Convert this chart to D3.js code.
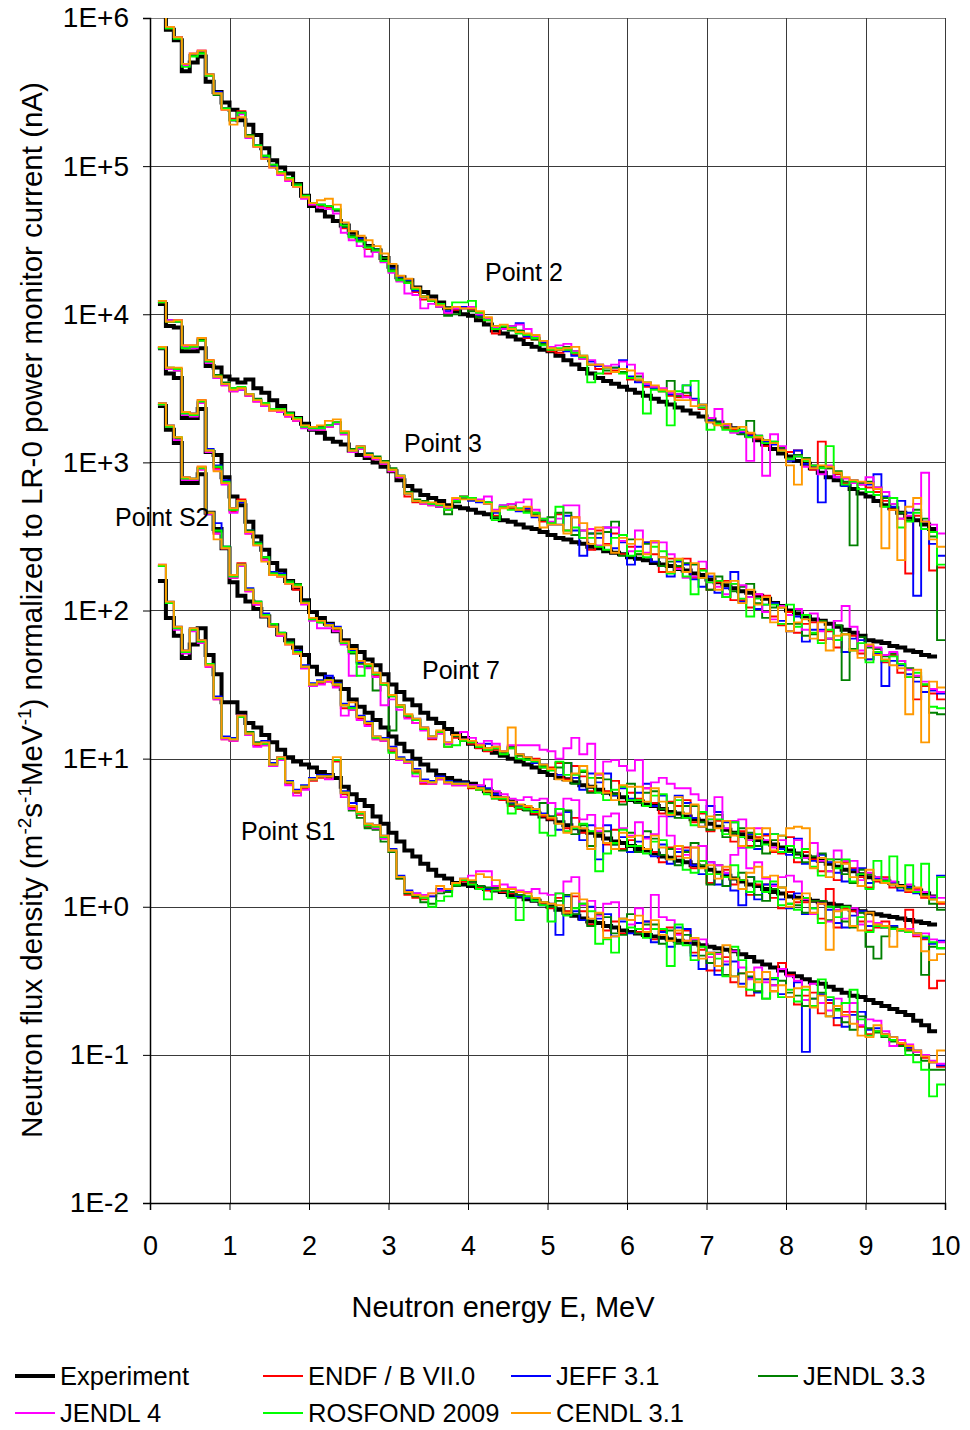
<!DOCTYPE html>
<html>
<head>
<meta charset="utf-8">
<script src="https://cdn.jsdelivr.net/npm/d3@7"></script>
<style>
  body { margin: 0; background: #fff; }
  text { font-family: "Liberation Sans", Arial, sans-serif; }
</style>
</head>
<body>
<svg id="chart" width="970" height="1430"></svg>
<script>
// Flux values are kept as log10 of the flux density, one value per 0.1 MeV bin,
// the first bin starting at 0.1 MeV.

const energyTicks = [0, 1, 2, 3, 4, 5, 6, 7, 8, 9, 10];
const decadeTicks = [1e-2, 1e-1, 1e0, 1e1, 1e2, 1e3, 1e4, 1e5, 1e6];
const decadeLabels = ["1E-2", "1E-1", "1E+0", "1E+1", "1E+2", "1E+3", "1E+4", "1E+5", "1E+6"];

const libraries = ["ENDF / B VII.0", "JEFF 3.1", "JENDL 3.3", "JENDL 4", "ROSFOND 2009", "CENDL 3.1"];
const libColors = ["#ff0000", "#0000ff", "#008000", "#ff00ff", "#00ff00", "#ff9900"];
const pointNames = ["Point 2", "Point 3", "Point 7", "Point S2", "Point S1"];

// ---------- Point 2 ----------
const p2_exp = [6.04,5.92,5.85,5.64,5.70,5.74,5.57,5.50,5.43,5.38,
5.31,5.28,5.21,5.12,5.04,4.99,4.95,4.88,4.80,4.73,
4.70,4.66,4.63,4.60,4.55,4.51,4.46,4.43,4.38,4.32,
4.25,4.23,4.18,4.15,4.12,4.08,4.04,4.02,4.00,3.99,
3.96,3.93,3.89,3.87,3.85,3.83,3.80,3.78,3.76,3.75,
3.72,3.69,3.66,3.63,3.60,3.57,3.55,3.53,3.51,3.49,
3.47,3.45,3.43,3.41,3.39,3.37,3.35,3.33,3.31,3.29,
3.27,3.25,3.23,3.20,3.18,3.15,3.12,3.09,3.06,3.04,
3.01,2.99,2.96,2.93,2.90,2.88,2.85,2.82,2.79,2.77,
2.74,2.71,2.69,2.66,2.63,2.61,2.58,2.55];
const p2_endf = [6.05,5.93,5.87,5.69,5.75,5.78,5.61,5.49,5.39,5.32,
5.37,5.21,5.14,5.06,5.00,4.95,4.91,4.87,4.79,4.74,
4.73,4.72,4.70,4.58,4.52,4.50,4.44,4.43,4.36,4.29,
4.23,4.21,4.15,4.10,4.09,4.06,4.01,4.03,4.04,4.03,
3.98,3.96,3.87,3.90,3.90,3.88,3.84,3.83,3.80,3.75,
3.74,3.76,3.73,3.70,3.66,3.63,3.60,3.62,3.63,3.56,
3.55,3.51,3.50,3.48,3.45,3.44,3.45,3.42,3.36,3.27,
3.26,3.23,3.22,3.20,3.19,3.16,3.11,3.13,3.09,3.07,
3.08,3.02,2.95,3.14,2.96,2.92,2.86,2.86,2.85,2.83,
2.80,2.74,2.68,2.62,2.25,2.64,2.60,2.27,2.29];
const p2_jeff = [6.05,5.94,5.87,5.68,5.75,5.77,5.62,5.50,5.39,5.31,
5.36,5.20,5.14,5.06,5.00,4.95,4.91,4.87,4.79,4.75,
4.74,4.73,4.70,4.59,4.53,4.51,4.46,4.44,4.38,4.31,
4.25,4.23,4.16,4.12,4.10,4.06,4.02,4.04,4.05,4.04,
3.99,3.97,3.91,3.91,3.92,3.94,3.85,3.84,3.81,3.77,
3.76,3.75,3.72,3.71,3.68,3.65,3.64,3.64,3.69,3.58,
3.54,3.52,3.50,3.49,3.46,3.46,3.52,3.43,3.39,3.28,
3.27,3.25,3.21,3.20,3.18,3.18,3.14,3.12,3.10,3.01,
3.08,2.99,2.96,2.73,2.97,2.90,2.84,2.88,2.86,2.85,
2.92,2.77,2.70,2.74,2.66,2.10,2.60,2.45,2.37];
const p2_jendl33 = [6.05,5.93,5.87,5.68,5.75,5.77,5.61,5.48,5.39,5.31,
5.36,5.21,5.14,5.07,5.01,4.96,4.92,4.88,4.80,4.75,
4.74,4.73,4.70,4.59,4.53,4.50,4.46,4.44,4.38,4.30,
4.24,4.22,4.17,4.12,4.09,4.05,3.99,4.00,4.04,4.02,
3.98,3.97,3.92,3.91,3.89,3.89,3.86,3.83,3.80,3.77,
3.76,3.78,3.75,3.72,3.66,3.66,3.62,3.64,3.61,3.57,
3.58,3.54,3.51,3.48,3.55,3.45,3.47,3.42,3.39,3.29,
3.27,3.24,3.21,3.19,3.28,3.17,3.15,3.14,3.10,3.03,
3.05,3.03,2.98,2.97,2.96,2.94,2.87,2.44,2.86,2.87,
2.83,2.76,2.72,2.66,2.61,2.68,2.62,2.50,1.80];
const p2_jendl4 = [6.06,5.94,5.87,5.68,5.76,5.78,5.61,5.49,5.38,5.31,
5.35,5.19,5.13,5.05,4.99,4.94,4.90,4.86,4.78,4.74,
4.72,4.71,4.68,4.55,4.50,4.46,4.39,4.42,4.35,4.28,
4.22,4.14,4.13,4.04,4.07,4.05,4.01,4.04,4.04,4.05,
4.00,3.97,3.91,3.90,3.92,3.93,3.90,3.85,3.82,3.78,
3.79,3.80,3.75,3.70,3.69,3.66,3.65,3.66,3.68,3.66,
3.60,3.53,3.51,3.50,3.47,3.46,3.44,3.42,3.37,3.30,
3.36,3.25,3.20,3.21,3.01,3.18,2.91,3.19,3.11,3.02,
3.04,2.97,2.98,2.92,2.98,2.90,2.89,2.86,2.85,2.90,
2.83,2.80,2.72,2.62,2.64,2.72,2.93,2.58,2.52];
const p2_rosfond = [6.05,5.93,5.86,5.67,5.74,5.76,5.61,5.49,5.39,5.31,
5.36,5.20,5.14,5.07,5.01,4.96,4.92,4.87,4.80,4.75,
4.74,4.73,4.71,4.60,4.52,4.49,4.45,4.43,4.36,4.29,
4.23,4.21,4.17,4.12,4.09,4.07,4.04,4.08,4.08,4.09,
4.01,3.96,3.90,3.92,3.91,3.87,3.86,3.84,3.79,3.76,
3.77,3.76,3.74,3.71,3.54,3.60,3.64,3.61,3.60,3.57,
3.56,3.33,3.49,3.48,3.25,3.48,3.52,3.55,3.37,3.22,
3.26,3.22,3.21,3.22,3.17,3.18,3.13,3.14,3.08,3.02,
3.04,3.01,2.98,2.96,3.11,2.93,2.85,2.87,2.82,2.80,
2.78,2.70,2.76,2.56,2.60,2.66,2.55,2.53,2.31];
const p2_cendl = [6.06,5.94,5.87,5.69,5.76,5.78,5.62,5.49,5.38,5.28,
5.33,5.20,5.13,5.05,4.99,4.95,4.91,4.86,4.79,4.75,
4.77,4.78,4.74,4.62,4.56,4.53,4.50,4.46,4.41,4.34,
4.26,4.24,4.18,4.12,4.10,4.06,4.04,4.05,4.04,4.04,
4.02,3.98,3.92,3.93,3.90,3.88,3.87,3.86,3.82,3.77,
3.76,3.77,3.78,3.72,3.66,3.66,3.64,3.61,3.63,3.62,
3.56,3.54,3.52,3.49,3.48,3.42,3.42,3.38,3.39,3.27,
3.25,3.26,3.23,3.24,3.20,3.17,3.15,3.13,3.08,2.98,
2.85,3.02,2.96,2.98,2.97,2.93,2.90,2.88,2.87,2.86,
2.82,2.42,2.68,2.34,2.70,2.76,2.60,2.48,2.43];

// ---------- Point 3 ----------
const p3_exp = [4.07,3.92,3.91,3.75,3.75,3.77,3.65,3.64,3.58,3.56,
3.54,3.56,3.50,3.47,3.42,3.38,3.33,3.30,3.26,3.22,
3.20,3.16,3.14,3.12,3.08,3.05,3.03,3.00,2.97,2.94,
2.88,2.84,2.81,2.78,2.76,2.74,2.71,2.70,2.69,2.68,
2.66,2.65,2.63,2.61,2.60,2.58,2.56,2.55,2.53,2.51,
2.49,2.48,2.46,2.45,2.43,2.42,2.40,2.39,2.38,2.36,
2.35,2.34,2.32,2.31,2.30,2.28,2.27,2.25,2.24,2.21,
2.19,2.17,2.15,2.13,2.12,2.10,2.08,2.05,2.03,2.00,
1.98,1.96,1.94,1.93,1.91,1.89,1.87,1.85,1.83,1.80,
1.79,1.78,1.76,1.75,1.73,1.72,1.70,1.69];
const p3_endf = [4.08,3.95,3.96,3.79,3.79,3.84,3.69,3.58,3.52,3.48,
3.50,3.45,3.41,3.38,3.35,3.34,3.31,3.28,3.24,3.23,
3.22,3.24,3.27,3.19,3.07,3.09,3.04,3.02,2.99,2.94,
2.90,2.77,2.73,2.72,2.71,2.70,2.68,2.74,2.77,2.75,
2.74,2.73,2.64,2.70,2.69,2.68,2.68,2.66,2.60,2.59,
2.65,2.54,2.63,2.49,2.41,2.54,2.45,2.52,2.38,2.43,
2.38,2.46,2.38,2.26,2.35,2.29,2.35,2.22,2.28,2.14,
2.19,2.20,2.07,2.07,2.02,2.11,2.10,1.96,1.90,1.99,
1.85,1.91,1.92,1.80,1.86,1.75,1.84,1.83,1.71,1.67,
1.70,1.65,1.70,1.58,1.55,1.40,1.49,1.44,1.40];
const p3_jeff = [4.09,3.96,3.95,3.78,3.78,3.83,3.68,3.57,3.53,3.49,
3.49,3.46,3.42,3.39,3.36,3.35,3.32,3.29,3.24,3.23,
3.23,3.25,3.26,3.20,3.08,3.11,3.06,3.03,3.00,2.95,
2.91,2.79,2.74,2.73,2.72,2.71,2.69,2.74,2.76,2.74,
2.73,2.72,2.66,2.71,2.70,2.67,2.69,2.63,2.61,2.58,
2.58,2.64,2.54,2.37,2.52,2.49,2.56,2.42,2.46,2.31,
2.43,2.46,2.33,2.36,2.23,2.33,2.31,2.21,2.16,2.23,
2.12,2.15,2.26,2.06,2.09,2.01,2.04,2.05,1.93,1.86,
1.96,1.79,1.87,1.87,1.81,1.80,1.72,1.81,1.80,1.67,
1.71,1.49,1.66,1.63,1.57,1.52,1.45,1.46,1.44];
const p3_jendl33 = [4.08,3.95,3.95,3.78,3.78,3.83,3.68,3.59,3.54,3.50,
3.50,3.46,3.43,3.40,3.36,3.35,3.33,3.29,3.25,3.24,
3.24,3.25,3.27,3.20,3.09,3.10,3.06,3.04,3.01,2.96,
2.91,2.80,2.75,2.74,2.72,2.70,2.65,2.73,2.76,2.75,
2.74,2.73,2.63,2.70,2.72,2.68,2.67,2.65,2.61,2.63,
2.66,2.66,2.51,2.54,2.52,2.52,2.53,2.60,2.37,2.48,
2.38,2.45,2.46,2.30,2.33,2.30,2.32,2.31,2.22,2.14,
2.23,2.09,2.13,2.16,2.18,2.05,1.95,2.02,2.02,1.91,
1.91,1.83,1.84,1.93,1.81,1.90,1.53,1.74,1.82,1.75,
1.74,1.69,1.71,1.66,1.61,1.55,1.50,1.31,1.30];
const p3_jendl4 = [4.09,3.96,3.96,3.78,3.77,3.82,3.67,3.57,3.52,3.48,
3.49,3.45,3.41,3.38,3.35,3.34,3.31,3.28,3.23,3.22,
3.22,3.24,3.26,3.19,3.07,3.09,3.04,3.02,2.99,2.94,
2.90,2.79,2.74,2.72,2.71,2.70,2.69,2.75,2.77,2.76,
2.75,2.77,2.68,2.71,2.72,2.73,2.75,2.68,2.62,2.60,
2.62,2.71,2.71,2.54,2.55,2.44,2.56,2.56,2.47,2.40,
2.54,2.39,2.46,2.46,2.38,2.28,2.22,2.23,2.33,2.19,
2.16,2.11,2.18,2.17,2.09,2.11,1.99,1.94,2.03,1.97,
2.01,1.87,1.98,1.86,1.81,1.93,2.03,1.89,1.73,1.76,
1.75,1.70,1.72,1.66,1.60,1.56,1.52,1.47,1.45];
const p3_rosfond = [4.08,3.95,3.95,3.77,3.78,3.82,3.68,3.58,3.53,3.50,
3.51,3.46,3.42,3.40,3.36,3.36,3.33,3.30,3.24,3.23,
3.23,3.25,3.27,3.20,3.08,3.10,3.05,3.03,3.00,2.95,
2.91,2.79,2.74,2.73,2.72,2.71,2.68,2.74,2.77,2.76,
2.74,2.73,2.61,2.70,2.68,2.69,2.66,2.66,2.62,2.59,
2.70,2.54,2.56,2.49,2.49,2.43,2.41,2.49,2.51,2.37,
2.40,2.36,2.43,2.40,2.25,2.34,2.23,2.11,2.27,2.19,
2.20,2.09,2.18,2.08,1.96,2.08,2.04,2.04,1.91,2.04,
1.89,1.97,1.85,1.78,1.87,1.80,1.84,1.73,1.78,1.65,
1.72,1.66,1.69,1.64,1.55,1.58,1.50,1.35,1.34];
const p3_cendl = [4.09,3.95,3.96,3.79,3.79,3.84,3.69,3.58,3.53,3.49,
3.50,3.46,3.42,3.39,3.35,3.35,3.32,3.29,3.25,3.24,
3.25,3.28,3.29,3.21,3.08,3.11,3.05,3.03,3.00,2.95,
2.91,2.79,2.74,2.73,2.73,2.72,2.70,2.76,2.75,2.75,
2.74,2.72,2.67,2.69,2.70,2.68,2.70,2.64,2.56,2.58,
2.58,2.52,2.63,2.59,2.45,2.56,2.44,2.39,2.49,2.45,
2.48,2.38,2.47,2.36,2.26,2.35,2.26,2.32,2.22,2.25,
2.14,2.19,2.20,2.05,2.14,2.04,2.09,1.92,2.02,1.86,
1.92,1.94,1.81,1.92,1.73,1.83,1.84,1.73,1.68,1.77,
1.70,1.67,1.63,1.61,1.30,1.60,1.11,1.52,1.48];

// ---------- Point 7 ----------
const p7_exp = [3.77,3.60,3.57,3.30,3.30,3.36,3.07,3.05,2.90,2.77,
2.71,2.60,2.50,2.41,2.32,2.27,2.20,2.15,2.07,1.99,
1.95,1.91,1.86,1.80,1.76,1.72,1.67,1.63,1.57,1.50,
1.45,1.40,1.36,1.31,1.27,1.24,1.20,1.17,1.14,1.10,
1.08,1.06,1.04,1.02,1.00,0.98,0.96,0.94,0.91,0.89,
0.87,0.86,0.84,0.82,0.81,0.79,0.77,0.76,0.74,0.72,
0.71,0.69,0.68,0.66,0.64,0.63,0.61,0.59,0.58,0.56,
0.54,0.52,0.50,0.49,0.47,0.45,0.43,0.42,0.40,0.38,
0.36,0.34,0.33,0.31,0.29,0.27,0.25,0.24,0.22,0.20,
0.19,0.17,0.16,0.14,0.13,0.11,0.09,0.07];
const p7_endf = [3.77,3.64,3.63,3.33,3.32,3.42,3.07,2.96,2.87,2.67,
2.75,2.52,2.45,2.35,2.24,2.23,2.19,2.14,2.05,1.95,
1.92,1.90,1.87,1.79,1.72,1.65,1.63,1.56,1.50,1.42,
1.35,1.28,1.24,1.20,1.13,1.17,1.08,1.14,1.12,1.10,
1.07,1.05,1.06,1.04,1.07,1.02,0.99,1.00,0.94,0.94,
0.97,0.86,0.95,0.88,0.78,0.87,0.78,0.85,0.71,0.77,
0.73,0.80,0.70,0.63,0.71,0.68,0.72,0.57,0.63,0.51,
0.58,0.58,0.44,0.51,0.41,0.47,0.48,0.37,0.36,0.47,
0.30,0.37,0.32,0.24,0.32,0.18,0.30,0.26,0.20,0.13,
0.17,0.20,0.13,0.14,0.10,0.12,0.06,0.05,0.02];
const p7_jeff = [3.77,3.63,3.63,3.34,3.33,3.41,3.09,2.98,2.88,2.69,
2.73,2.54,2.46,2.36,2.26,2.25,2.20,2.18,2.06,1.95,
1.93,1.91,1.89,1.78,1.73,1.65,1.64,1.58,1.51,1.43,
1.36,1.29,1.27,1.21,1.15,1.18,1.11,1.16,1.13,1.12,
1.09,1.10,1.08,1.05,1.08,1.03,1.01,0.97,0.96,0.93,
0.89,0.97,0.87,0.79,0.90,0.84,0.90,0.75,0.80,0.73,
0.77,0.83,0.68,0.75,0.61,0.75,0.70,0.60,0.54,0.68,
0.64,0.57,0.57,0.40,0.49,0.39,0.49,0.49,0.39,0.35,
0.46,0.29,0.31,0.35,0.30,0.23,0.17,0.25,0.26,0.16,
0.19,0.17,0.16,0.11,0.13,0.09,0.08,0.06,0.21];
const p7_jendl33 = [3.77,3.63,3.62,3.33,3.32,3.40,3.08,2.97,2.86,2.68,
2.74,2.54,2.46,2.36,2.25,2.24,2.20,2.18,2.06,1.94,
1.92,1.90,1.88,1.78,1.71,1.64,1.62,1.46,1.50,1.19,
1.36,1.29,1.26,1.20,1.14,1.18,1.10,1.15,1.12,1.11,
1.08,1.07,1.07,1.04,1.08,1.02,1.00,0.99,0.95,0.93,
0.94,0.97,0.83,0.91,0.77,0.87,0.86,0.76,0.69,0.83,
0.70,0.77,0.78,0.66,0.70,0.60,0.68,0.68,0.57,0.52,
0.62,0.47,0.50,0.53,0.50,0.41,0.36,0.45,0.48,0.37,
0.36,0.30,0.34,0.36,0.24,0.32,0.22,0.16,0.25,0.22,
0.18,0.18,0.15,0.13,0.12,0.10,0.08,0.02,-0.02];
const p7_jendl4 = [3.78,3.63,3.62,3.32,3.31,3.40,3.07,2.95,2.85,2.66,
2.74,2.52,2.44,2.34,2.24,2.23,2.18,2.16,2.04,1.93,
1.88,1.88,1.86,1.77,1.56,1.62,1.61,1.55,1.36,1.40,
1.33,1.27,1.24,1.19,1.14,1.17,1.10,1.16,1.18,1.14,
1.10,1.12,1.10,1.05,1.09,1.09,1.09,1.09,1.06,1.05,
1.00,1.07,1.14,1.03,1.10,0.89,0.98,0.99,0.95,0.92,
0.99,0.80,0.84,0.87,0.83,0.80,0.80,0.76,0.72,0.59,
0.74,0.53,0.58,0.59,0.45,0.53,0.45,0.40,0.45,0.41,
0.45,0.33,0.43,0.31,0.24,0.38,0.31,0.31,0.18,0.23,
0.20,0.19,0.17,0.14,0.15,0.11,0.10,0.07,0.06];
const p7_rosfond = [3.77,3.64,3.63,3.33,3.32,3.41,3.08,2.97,2.87,2.68,
2.74,2.53,2.45,2.36,2.25,2.24,2.19,2.17,2.05,1.94,
1.92,1.90,1.88,1.78,1.72,1.56,1.63,1.57,1.50,1.42,
1.35,1.29,1.26,1.20,1.15,1.18,1.08,1.09,1.12,1.11,
1.08,1.06,1.07,1.03,1.07,1.00,0.99,0.98,0.94,0.92,
0.98,0.89,0.89,0.92,0.87,0.77,0.72,0.79,0.81,0.72,
0.72,0.68,0.75,0.76,0.63,0.72,0.60,0.55,0.64,0.59,
0.59,0.49,0.57,0.47,0.40,0.49,0.42,0.49,0.37,0.41,
0.33,0.39,0.27,0.21,0.32,0.26,0.32,0.17,0.22,0.12,
0.31,0.17,0.34,0.14,0.28,0.10,0.29,0.05,0.20];
const p7_cendl = [3.78,3.64,3.64,3.34,3.33,3.42,3.08,2.94,2.86,2.69,
2.74,2.53,2.44,2.33,2.24,2.23,2.18,2.16,2.05,1.95,
1.93,1.90,1.88,1.79,1.74,1.66,1.64,1.58,1.51,1.43,
1.36,1.30,1.27,1.21,1.15,1.19,1.11,1.16,1.13,1.12,
1.09,1.07,1.08,1.05,1.21,1.03,1.01,0.99,0.96,0.93,
0.86,0.85,0.90,0.95,0.81,0.90,0.77,0.72,0.82,0.81,
0.81,0.71,0.80,0.71,0.62,0.74,0.63,0.69,0.54,0.61,
0.53,0.58,0.48,0.41,0.53,0.46,0.53,0.38,0.48,0.53,
0.54,0.53,0.26,0.33,0.20,0.30,0.29,0.20,0.14,0.25,
0.18,0.16,0.15,0.14,0.11,0.13,0.07,0.05,0.03];

// ---------- Point S2 ----------
const ps2_exp = [3.38,3.22,3.13,2.86,2.86,2.92,2.66,2.55,2.42,2.19,
2.10,2.06,2.01,1.96,1.90,1.84,1.80,1.75,1.70,1.62,
1.57,1.54,1.52,1.47,1.40,1.35,1.31,1.26,1.21,1.15,
1.10,1.05,1.00,0.96,0.92,0.89,0.87,0.85,0.84,0.83,
0.81,0.78,0.76,0.73,0.71,0.68,0.66,0.63,0.61,0.59,
0.57,0.55,0.53,0.51,0.50,0.48,0.46,0.44,0.43,0.41,
0.39,0.38,0.36,0.34,0.33,0.31,0.30,0.28,0.27,0.25,
0.23,0.21,0.19,0.17,0.15,0.14,0.12,0.10,0.09,0.07,
0.06,0.05,0.04,0.03,0.02,0.01,0.00,-0.02,-0.03,-0.04,
-0.05,-0.06,-0.07,-0.08,-0.09,-0.10,-0.11,-0.12];
const ps2_endf = [3.39,3.24,3.16,2.89,2.89,2.97,2.66,2.52,2.42,2.22,
2.32,2.13,2.04,1.97,1.90,1.83,1.78,1.71,1.61,1.50,
1.51,1.52,1.49,1.34,1.33,1.27,1.23,1.13,1.12,1.05,
0.99,0.97,0.91,0.83,0.83,0.86,0.84,0.82,0.82,0.80,
0.79,0.78,0.73,0.72,0.68,0.66,0.67,0.63,0.61,0.59,
0.62,0.53,0.60,0.50,0.41,0.50,0.42,0.52,0.39,0.45,
0.41,0.47,0.37,0.30,0.40,0.34,0.40,0.26,0.31,0.16,
0.22,0.25,0.15,0.18,0.08,0.15,0.15,0.06,-0.01,0.10,
0.03,0.03,0.04,-0.08,0.12,-0.14,-0.01,-0.03,-0.10,-0.16,
-0.14,-0.10,-0.15,-0.16,-0.02,-0.20,-0.22,-0.55,-0.50];
const ps2_jeff = [3.40,3.25,3.16,2.90,2.89,2.96,2.66,2.59,2.43,2.24,
2.31,2.15,2.06,1.98,1.91,1.85,1.79,1.73,1.63,1.51,
1.53,1.56,1.51,1.37,1.35,1.29,1.25,1.15,1.14,1.08,
1.01,0.99,0.93,0.86,0.85,0.88,0.85,0.84,0.84,0.82,
0.81,0.80,0.76,0.74,0.70,0.68,0.66,0.65,0.63,0.61,
0.52,0.64,0.53,0.45,0.55,0.32,0.55,0.42,0.47,0.37,
0.44,0.47,0.34,0.42,0.29,0.37,0.38,0.28,0.22,0.30,
0.15,0.22,0.11,0.01,0.20,0.05,0.15,0.15,0.05,-0.01,
0.09,-0.05,-0.01,0.02,-0.02,-0.11,-0.14,-0.06,-0.03,-0.13,
-0.12,-0.14,-0.13,-0.15,-0.17,-0.18,-0.21,-0.25,-0.23];
const ps2_jendl33 = [3.39,3.24,3.16,2.89,2.88,2.96,2.65,2.53,2.43,2.23,
2.30,2.14,2.06,1.97,1.90,1.84,1.79,1.72,1.62,1.50,
1.52,1.53,1.50,1.36,1.34,1.28,1.24,1.14,1.13,1.06,
1.00,0.98,0.92,0.85,0.84,0.87,0.84,0.83,0.83,0.81,
0.80,0.79,0.74,0.73,0.69,0.67,0.65,0.64,0.70,0.61,
0.66,0.65,0.49,0.55,0.41,0.50,0.51,0.42,0.38,0.50,
0.37,0.51,0.46,0.35,0.39,0.28,0.37,0.43,0.28,0.15,
0.28,0.14,0.19,0.23,0.20,0.08,0.04,0.12,0.13,0.02,
0.01,-0.04,0.04,0.04,-0.09,0.00,-0.10,-0.14,-0.04,-0.27,
-0.35,-0.20,-0.14,-0.15,-0.16,-0.18,-0.46,-0.27,-0.28];
const ps2_jendl4 = [3.39,3.24,3.15,2.88,2.88,2.95,2.65,2.52,2.42,2.22,
2.30,2.13,2.04,1.96,1.89,1.83,1.77,1.71,1.61,1.49,
1.50,1.52,1.48,1.29,1.33,1.26,1.22,1.13,1.12,1.06,
0.99,0.97,0.88,0.84,0.83,0.86,0.83,0.82,0.82,0.82,
0.82,0.86,0.78,0.76,0.73,0.72,0.74,0.72,0.73,0.70,
0.63,0.73,0.72,0.59,0.62,0.51,0.61,0.63,0.53,0.48,
0.57,0.46,0.49,0.61,0.48,0.39,0.35,0.40,0.41,0.30,
0.28,0.23,0.35,0.40,0.26,0.30,0.19,0.14,0.20,0.21,
0.17,0.05,-0.05,0.02,-0.10,-0.02,-0.08,-0.01,-0.12,-0.10,
-0.11,-0.14,-0.15,-0.16,-0.15,-0.19,-0.18,-0.22,-0.24];
const ps2_rosfond = [3.39,3.24,3.17,2.89,2.89,2.96,2.66,2.54,2.43,2.23,
2.31,2.14,2.06,1.97,1.91,1.85,1.78,1.72,1.62,1.50,
1.52,1.53,1.50,1.36,1.34,1.28,1.24,1.14,1.13,1.04,
1.00,0.98,0.90,0.85,0.84,0.87,0.84,0.83,0.83,0.81,
0.79,0.76,0.73,0.73,0.63,0.67,0.66,0.64,0.50,0.48,
0.66,0.51,0.53,0.56,0.51,0.24,0.36,0.43,0.52,0.41,
0.41,0.36,0.44,0.45,0.32,0.41,0.25,0.23,0.31,0.22,
0.22,0.20,0.28,0.18,0.10,0.17,0.10,0.17,0.01,0.02,
-0.02,0.06,-0.01,-0.11,0.00,-0.07,0.00,-0.13,-0.07,-0.17,
-0.13,-0.14,-0.15,-0.16,-0.17,-0.18,-0.20,-0.24,-0.28];
const ps2_cendl = [3.40,3.25,3.17,2.90,2.89,2.97,2.66,2.48,2.42,2.24,
2.31,2.14,2.05,1.96,1.89,1.84,1.77,1.71,1.62,1.50,
1.52,1.53,1.50,1.36,1.38,1.28,1.24,1.15,1.13,1.07,
1.00,0.98,0.92,0.85,0.84,0.87,0.84,0.83,0.83,0.81,
0.80,0.78,0.74,0.74,0.71,0.69,0.68,0.66,0.62,0.60,
0.56,0.50,0.54,0.53,0.39,0.53,0.43,0.39,0.50,0.47,
0.48,0.39,0.48,0.40,0.32,0.41,0.33,0.40,0.26,0.28,
0.19,0.27,0.19,0.12,0.23,0.27,0.20,0.21,0.13,0.00,
0.05,0.09,-0.04,0.02,-0.29,-0.03,-0.02,-0.13,-0.16,-0.04,
-0.12,-0.13,-0.27,-0.15,-0.16,-0.18,-0.30,-0.36,-0.32];

// ---------- Point S1 ----------
const ps1_exp = [2.20,1.95,1.83,1.68,1.77,1.88,1.70,1.57,1.38,1.38,
1.31,1.24,1.21,1.16,1.11,1.06,1.01,0.98,0.96,0.94,
0.91,0.89,0.87,0.81,0.76,0.72,0.68,0.61,0.56,0.50,
0.44,0.38,0.34,0.29,0.25,0.21,0.19,0.16,0.15,0.14,
0.13,0.12,0.11,0.10,0.08,0.07,0.05,0.04,0.02,0.00,
-0.02,-0.04,-0.06,-0.08,-0.10,-0.11,-0.13,-0.14,-0.16,-0.17,
-0.18,-0.19,-0.20,-0.21,-0.22,-0.23,-0.24,-0.25,-0.26,-0.27,
-0.28,-0.29,-0.30,-0.32,-0.34,-0.37,-0.39,-0.41,-0.43,-0.45,
-0.47,-0.49,-0.51,-0.52,-0.54,-0.56,-0.58,-0.60,-0.61,-0.63,
-0.65,-0.67,-0.69,-0.71,-0.73,-0.77,-0.80,-0.84];
const ps1_endf = [2.30,2.05,1.88,1.72,1.87,1.79,1.62,1.40,1.13,1.12,
1.29,1.16,1.09,1.09,0.95,1.00,0.83,0.77,0.80,0.85,
0.87,0.87,0.98,0.76,0.67,0.62,0.54,0.53,0.46,0.37,
0.19,0.08,0.06,0.05,0.07,0.11,0.10,0.15,0.17,0.16,
0.13,0.11,0.12,0.10,0.09,0.07,0.06,0.05,0.02,-0.01,
0.06,-0.03,0.07,-0.03,-0.12,-0.05,-0.16,-0.10,-0.18,-0.09,
-0.17,-0.10,-0.22,-0.16,-0.14,-0.18,-0.16,-0.31,-0.29,-0.43,
-0.43,-0.34,-0.51,-0.45,-0.60,-0.49,-0.49,-0.57,-0.38,-0.46,
-0.66,-0.60,-0.58,-0.72,-0.65,-0.80,-0.71,-0.71,-0.81,-0.86,
-0.84,-0.86,-0.90,-0.93,-0.96,-0.98,-1.02,-1.05,-1.08];
const ps1_jeff = [2.30,2.06,1.89,1.73,1.88,1.80,1.64,1.42,1.15,1.14,
1.29,1.18,1.11,1.12,0.97,1.01,0.85,0.79,0.82,0.87,
0.89,0.89,0.99,0.78,0.70,0.64,0.56,0.55,0.48,0.39,
0.21,0.11,0.09,0.07,0.07,0.12,0.11,0.16,0.19,0.17,
0.14,0.12,0.13,0.11,0.10,0.07,0.06,0.04,0.01,0.02,
-0.19,0.07,-0.03,-0.09,0.00,-0.08,-0.05,-0.20,-0.10,-0.18,
-0.11,-0.10,-0.24,-0.17,-0.27,-0.14,-0.15,-0.33,-0.42,-0.31,
-0.46,-0.39,-0.37,-0.52,-0.48,-0.58,-0.49,-0.49,-0.59,-0.61,
-0.51,-0.98,-0.62,-0.59,-0.63,-0.75,-0.81,-0.73,-0.71,-0.83,
-0.82,-0.86,-0.88,-0.92,-0.95,-0.97,-1.00,-1.05,-1.07];
const ps1_jendl33 = [2.30,2.05,1.88,1.72,1.87,1.79,1.63,1.41,1.14,1.13,
1.28,1.18,1.11,1.10,0.96,1.00,0.84,0.78,0.81,0.86,
0.88,0.88,0.99,0.77,0.65,0.60,0.53,0.52,0.44,0.37,
0.19,0.09,0.07,0.03,0.02,0.09,0.10,0.14,0.18,0.17,
0.14,0.13,0.13,0.11,0.10,0.08,0.07,0.05,0.03,0.00,
0.04,0.08,-0.05,0.02,-0.13,-0.05,-0.07,-0.18,-0.19,-0.05,
-0.18,-0.12,-0.12,-0.25,-0.16,-0.25,-0.19,-0.23,-0.33,-0.38,
-0.31,-0.46,-0.47,-0.45,-0.47,-0.57,-0.62,-0.53,-0.50,-0.58,
-0.60,-0.67,-0.62,-0.58,-0.74,-0.69,-0.78,-0.83,-0.74,-0.82,
-0.85,-0.88,-0.91,-0.94,-0.97,-1.00,-1.04,-1.10,-1.10];
const ps1_jendl4 = [2.31,2.05,1.87,1.71,1.86,1.78,1.62,1.40,1.13,1.12,
1.29,1.16,1.08,1.09,0.95,0.99,0.82,0.75,0.79,0.86,
0.88,0.86,0.99,0.74,0.66,0.63,0.55,0.53,0.46,0.38,
0.20,0.10,0.09,0.08,0.09,0.11,0.12,0.16,0.18,0.21,
0.24,0.24,0.14,0.15,0.13,0.11,0.10,0.12,0.09,0.08,
0.09,0.17,0.20,0.01,0.04,-0.06,0.02,0.03,-0.08,-0.12,
-0.01,-0.15,0.08,-0.07,-0.09,-0.19,-0.23,-0.22,-0.22,-0.34,
-0.32,-0.37,-0.30,-0.41,-0.49,-0.41,-0.51,-0.53,-0.42,-0.47,
-0.50,-0.63,-0.52,-0.65,-0.70,-0.62,-0.74,-0.65,-0.80,-0.76,
-0.77,-0.84,-0.94,-0.90,-0.93,-0.98,-1.00,-1.04,-1.06];
const ps1_rosfond = [2.30,2.05,1.88,1.72,1.87,1.79,1.64,1.41,1.14,1.13,
1.28,1.17,1.10,1.10,0.96,1.00,0.84,0.78,0.81,0.86,
0.88,0.88,0.99,0.77,0.68,0.63,0.55,0.54,0.47,0.38,
0.20,0.10,0.08,0.06,0.00,0.04,0.07,0.15,0.18,0.15,
0.12,0.05,0.11,0.12,0.06,-0.09,0.07,0.04,0.01,-0.10,
0.09,-0.06,-0.01,0.02,-0.03,-0.25,-0.22,-0.31,-0.08,-0.14,
-0.15,-0.21,-0.15,-0.15,-0.40,-0.12,-0.26,-0.36,-0.27,-0.32,
-0.35,-0.47,-0.27,-0.36,-0.56,-0.49,-0.62,-0.48,-0.61,-0.56,
-0.64,-0.56,-0.67,-0.49,-0.61,-0.70,-0.65,-0.56,-0.76,-0.87,
-0.84,-0.87,-0.90,-0.92,-1.00,-1.05,-1.10,-1.28,-1.20];
const ps1_cendl = [2.31,2.06,1.89,1.73,1.88,1.80,1.63,1.41,1.14,1.13,
1.29,1.17,1.10,1.11,0.96,1.01,0.84,0.78,0.81,0.86,
0.88,0.88,1.01,0.77,0.68,0.64,0.56,0.55,0.48,0.38,
0.20,0.10,0.08,0.07,0.09,0.14,0.12,0.16,0.19,0.18,
0.22,0.20,0.18,0.12,0.12,0.10,0.09,0.06,0.03,0.02,
0.01,-0.04,0.09,0.05,-0.08,-0.04,-0.21,-0.20,-0.08,-0.09,
-0.06,-0.17,-0.09,-0.19,-0.23,-0.16,-0.23,-0.21,-0.35,-0.31,
-0.40,-0.26,-0.47,-0.54,-0.44,-0.51,-0.44,-0.57,-0.53,-0.61,
-0.55,-0.54,-0.68,-0.60,-0.74,-0.67,-0.73,-0.79,-0.87,-0.88,
-0.80,-0.86,-0.88,-0.92,-0.94,-0.97,-1.01,-1.05,-0.97];

const experiments = [p2_exp, p3_exp, p7_exp, ps2_exp, ps1_exp];
const calculations = [
  [p2_endf, p2_jeff, p2_jendl33, p2_jendl4, p2_rosfond, p2_cendl],
  [p3_endf, p3_jeff, p3_jendl33, p3_jendl4, p3_rosfond, p3_cendl],
  [p7_endf, p7_jeff, p7_jendl33, p7_jendl4, p7_rosfond, p7_cendl],
  [ps2_endf, ps2_jeff, ps2_jendl33, ps2_jendl4, ps2_rosfond, ps2_cendl],
  [ps1_endf, ps1_jeff, ps1_jendl33, ps1_jendl4, ps1_rosfond, ps1_cendl]
];

// ---------- layout ----------
const plot = {left: 150, right: 945, top: 18, bottom: 1203};
const TITLE_FONT = 29.5;

const svg = d3.select("#chart");

const x = d3.scaleLinear().domain([0, 10]).range([plot.left, plot.right]);
const y = d3.scaleLog().domain([1e-2, 1e6]).range([plot.bottom, plot.top]);

// bins are 0.1 MeV wide, starting at 0.1 MeV
function toSteps(logs) {
  const pts = logs.map((v, i) => [(i + 1) / 10, Math.pow(10, v)]);
  pts.push([(logs.length + 1) / 10, Math.pow(10, logs[logs.length - 1])]);
  return pts;
}

const stepLine = d3.line()
  .x(d => x(d[0]))
  .y(d => y(d[1]))
  .curve(d3.curveStepAfter);

// grid
const grid = svg.append("g").attr("stroke", "#3a3a3a").attr("stroke-width", 1).attr("shape-rendering", "crispEdges");
grid.selectAll(".hg").data(decadeTicks.slice(1)).join("line")
  .attr("x1", plot.left).attr("x2", plot.right)
  .attr("y1", d => Math.round(y(d)) + 0.5).attr("y2", d => Math.round(y(d)) + 0.5)
  .attr("stroke", (d, i, a) => i === a.length - 1 ? "#808080" : null);
grid.selectAll(".vg").data(energyTicks.slice(1)).join("line")
  .attr("x1", d => Math.round(x(d)) + 0.5).attr("x2", d => Math.round(x(d)) + 0.5)
  .attr("y1", plot.top).attr("y2", plot.bottom);

// series
svg.append("defs").append("clipPath").attr("id", "clip")
  .append("rect").attr("x", plot.left).attr("y", plot.top)
  .attr("width", plot.right - plot.left).attr("height", plot.bottom - plot.top);

const lines = svg.append("g").attr("clip-path", "url(#clip)").attr("fill", "none");

lines.selectAll(".exp").data(experiments).join("path")
  .attr("d", d => stepLine(toSteps(d)))
  .attr("stroke", "#000").attr("stroke-width", 4);

libraries.forEach((lib, li) => {
  lines.append("g").selectAll("path").data(calculations.map(c => c[li])).join("path")
    .attr("d", d => stepLine(toSteps(d)))
    .attr("stroke", libColors[li]).attr("stroke-width", 1.9);
});

// axes
const yAxis = svg.append("g").attr("transform", `translate(${plot.left},0)`)
  .call(d3.axisLeft(y).tickValues(decadeTicks).tickFormat((d, i) => decadeLabels[i]).tickSize(7).tickPadding(14));
const xAxis = svg.append("g").attr("transform", `translate(0,${plot.bottom})`)
  .call(d3.axisBottom(x).tickValues(energyTicks).tickFormat(d3.format("d")).tickSize(7).tickPadding(26));
[yAxis, xAxis].forEach(a => {
  a.select(".domain").attr("stroke", "#000").attr("stroke-width", 1.5);
  a.selectAll(".tick line").attr("stroke", "#000");
  a.selectAll(".tick text").attr("fill", "#000")
    .attr("font-family", "'Liberation Sans', Arial, sans-serif");
});
yAxis.selectAll(".tick text").attr("font-size", 28);
xAxis.selectAll(".tick text").attr("font-size", 27);

// titles
svg.append("text").attr("x", 503).attr("y", 1317).attr("text-anchor", "middle")
  .attr("font-size", 29).text("Neutron energy E, MeV");

const yTitle = svg.append("text").attr("transform", "translate(42,610) rotate(-90)")
  .attr("text-anchor", "middle").attr("font-size", TITLE_FONT);
[["Neutron flux density (m", 0], ["-2", -1], ["s", 1], ["-1", -1], ["MeV", 1], ["-1", -1],
 [") normalized to LR-0 power monitor current (nA)", 1]].forEach(([t, s]) => {
  yTitle.append("tspan").attr("dy", s * 11).attr("font-size", s < 0 ? 19 : TITLE_FONT).text(t);
});

// point labels
const labelSpots = [[485, 281], [404, 452], [422, 679], [115, 526], [241, 840]];
svg.append("g").selectAll("text").data(pointNames).join("text")
  .attr("x", (d, i) => labelSpots[i][0]).attr("y", (d, i) => labelSpots[i][1])
  .attr("font-size", 25).text(d => d);

// legend
const legendItems = [{name: "Experiment", color: "#000", w: 4}]
  .concat(libraries.map((n, i) => ({name: n, color: libColors[i], w: 2})));
const colX = [15, 263, 511, 758];
const rowY = [1376, 1413];
const legend = svg.append("g");
legendItems.forEach((item, j) => {
  const cx = colX[j % 4], cy = rowY[Math.floor(j / 4)];
  legend.append("line").attr("x1", cx).attr("x2", cx + 40).attr("y1", cy).attr("y2", cy)
    .attr("stroke", item.color).attr("stroke-width", item.w);
  legend.append("text").attr("x", cx + 45).attr("y", cy).attr("dy", "0.35em")
    .attr("font-size", 25.5).text(item.name);
});
</script>
</body>
</html>
